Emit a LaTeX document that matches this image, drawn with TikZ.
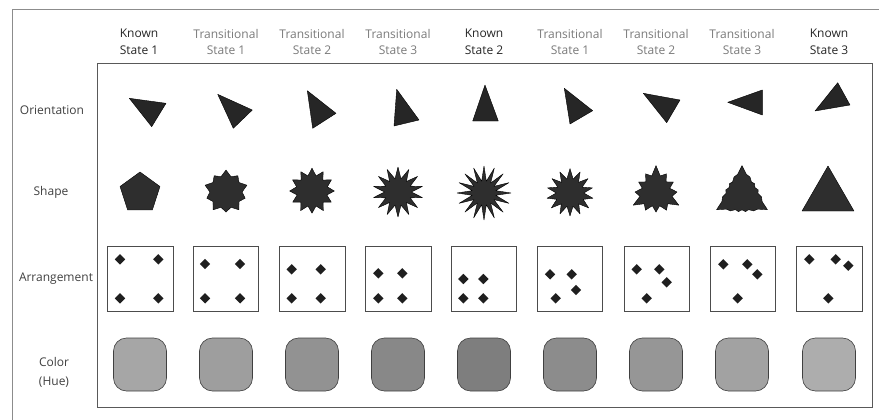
\documentclass[tikz,border=0pt]{standalone}
\usepackage{fontspec}
\setmainfont{Open Sans}
\usetikzlibrary{calc}

\definecolor{hue1}{HTML}{A6A6A6}
\definecolor{hue2}{HTML}{9E9E9E}
\definecolor{hue3}{HTML}{929292}
\definecolor{hue4}{HTML}{888888}
\definecolor{hue5}{HTML}{7E7E7E}
\definecolor{hue6}{HTML}{8C8C8C}
\definecolor{hue7}{HTML}{969696}
\definecolor{hue8}{HTML}{A2A2A2}
\definecolor{hue9}{HTML}{ADADAD}

% polygon -> star blend: x, y, sides, polygon radius, spikes, outer, inner, weight
\newcommand{\morph}[8]{%
  \pgfmathtruncatemacro{\nsamp}{2*#5+1}
  \begin{scope}[shift={(#1,#2)}]
    \filldraw[blob] plot[samples=\nsamp, domain=90:450]
      (\x:{(1-#8)*#4*cos(180/#3)/cos(mod(\x-90,360/#3)-180/#3)+#8*ifthenelse(mod(round((\x-90)*#5/180),2)==0,#6,#7)}) -- cycle;
  \end{scope}}
\newcommand{\gem}[2]{\fill[gemfill] (#1,#2) +(0,5.2) -- +(5.2,0) -- +(0,-5.2) -- +(-5.2,0) -- cycle;}

\begin{document}
\begin{tikzpicture}[x=1pt, y=1pt,
  known/.style={align=center, text=black!85, font=\fontsize{12}{16.5}\selectfont},
  trans/.style={known, text=black!52},
  rowlabel/.style={align=center, text=black!75, font=\fontsize{12}{19}\selectfont},
  tri/.style={fill=black!85, draw=black, line width=0.4pt, line join=round},
  blob/.style={fill=black!82, draw=black, line width=0.4pt, line join=round},
  gemfill/.style={fill=black!88},
  cell/.style={draw=black!70, line width=0.8pt},
  swatch/.style={draw=black!75, line width=0.6pt, rounded corners=13pt}]
\useasboundingbox (0,0) rectangle (879,-420);

% frames
\draw[black!45, line width=0.6pt] (12,-420) -- (12,-9) -- (879,-9);
\draw[black!65, line width=0.9pt] (97,-63) rectangle (872,-407);

% column heads
\node[known] (h1) at (139,-42) {Known\\State 1};
\node[trans] (h2) at (226,-42) {Transitional\\State 1};
\node[trans] (h3) at (312,-42) {Transitional\\State 2};
\node[trans] (h4) at (398,-42) {Transitional\\State 3};
\node[known] (h5) at (484,-42) {Known\\State 2};
\node[trans] (h6) at (570,-42) {Transitional\\State 1};
\node[trans] (h7) at (656,-42) {Transitional\\State 2};
\node[trans] (h8) at (742,-42) {Transitional\\State 3};
\node[known] (h9) at (829,-42) {Known\\State 3};

% row labels
\node[rowlabel] (lorient) at (52,-110) {Orientation};
\node[rowlabel] (lshape) at (51,-192) {Shape};
\node[rowlabel] (larrange) at (56,-279) {Arrangement};
\node[rowlabel] (lcolor) at (54,-372) {Color\\(Hue)};

% orientation
\filldraw[tri] (129.3,-98.3) -- (166,-103.3) -- (151.7,-126.7) -- cycle;
\filldraw[tri] (217.7,-94.3) -- (252.3,-110) -- (233.3,-128.3) -- cycle;
\filldraw[tri] (307.3,-90.7) -- (336,-113.3) -- (312.7,-128.3) -- cycle;
\filldraw[tri] (396.7,-89.3) -- (419,-120) -- (394,-126) -- cycle;
\filldraw[tri] (485,-85) -- (498.3,-121) -- (472.7,-121) -- cycle;
\filldraw[tri] (564.3,-88.3) -- (592.7,-110.7) -- (570,-124) -- cycle;
\filldraw[tri] (643.3,-93.3) -- (680,-100) -- (666.7,-122.7) -- cycle;
\filldraw[tri] (727.7,-102.3) -- (762.3,-90) -- (762.3,-115) -- cycle;
\filldraw[tri] (815,-111) -- (837.7,-82.7) -- (850,-105) -- cycle;

% shape
\morph{140}{-193}{5}{21}{5}{21}{21}{0}
\morph{226}{-192}{5}{22}{10}{22}{14}{0.55}
\morph{312}{-191}{5}{22}{12}{23}{15}{0.85}
\morph{398}{-192}{5}{22}{14}{25}{13.5}{1}
\morph{484}{-193}{5}{22}{16}{27}{12}{1}
\morph{570}{-193}{3}{28}{14}{24}{13.5}{0.9}
\morph{656}{-192}{3}{28}{12}{25}{14}{0.55}
\morph{742}{-195}{3}{31}{15}{22}{12}{0.18}
\morph{828}{-196}{3}{30}{3}{30}{30}{0}

% arrangement
\draw[cell] (107,-246) rectangle (173,-311);
\gem{120}{-259.3}\gem{158.3}{-259.3}\gem{120}{-298.3}\gem{158.3}{-298.3}
\draw[cell] (193,-246) rectangle (258,-311);
\gem{205}{-264}\gem{240}{-264}\gem{205}{-298.3}\gem{240}{-298.3}
\draw[cell] (279,-246) rectangle (345,-311);
\gem{291.7}{-269.3}\gem{320.7}{-269.3}\gem{291.7}{-298.3}\gem{320.7}{-298.3}
\draw[cell] (365,-246) rectangle (431,-311);
\gem{378.3}{-273.3}\gem{402.3}{-273.3}\gem{378.3}{-298.3}\gem{402.3}{-298.3}
\draw[cell] (451.5,-246) rectangle (516.5,-311);
\gem{463.3}{-279}\gem{483.3}{-279}\gem{463.3}{-298.3}\gem{483.3}{-298.3}
\draw[cell] (537.5,-246) rectangle (602.5,-311);
\gem{550}{-274.3}\gem{571.7}{-274.3}\gem{576}{-290}\gem{555.7}{-298.3}
\draw[cell] (624,-246) rectangle (689,-311);
\gem{636.7}{-269.3}\gem{659.3}{-269.3}\gem{666.7}{-282.3}\gem{646.7}{-298.3}
\draw[cell] (710,-246) rectangle (775,-311);
\gem{723.3}{-264.3}\gem{747.3}{-264.3}\gem{757.3}{-274.3}\gem{737.7}{-298.3}
\draw[cell] (796,-246) rectangle (862,-311);
\gem{809.3}{-259.3}\gem{835.7}{-259.3}\gem{848.3}{-265.7}\gem{828.3}{-298.3}

% color
\filldraw[swatch, fill=hue1] (113.5,-338) rectangle (166.5,-391);
\filldraw[swatch, fill=hue2] (199.5,-338) rectangle (252.5,-391);
\filldraw[swatch, fill=hue3] (285.5,-338) rectangle (338.5,-391);
\filldraw[swatch, fill=hue4] (371.5,-338) rectangle (424.5,-391);
\filldraw[swatch, fill=hue5] (457.5,-338) rectangle (510.5,-391);
\filldraw[swatch, fill=hue6] (543.5,-338) rectangle (596.5,-391);
\filldraw[swatch, fill=hue7] (629.5,-338) rectangle (682.5,-391);
\filldraw[swatch, fill=hue8] (715.5,-338) rectangle (768.5,-391);
\filldraw[swatch, fill=hue9] (802.5,-338) rectangle (855.5,-391);
\end{tikzpicture}
\end{document}
